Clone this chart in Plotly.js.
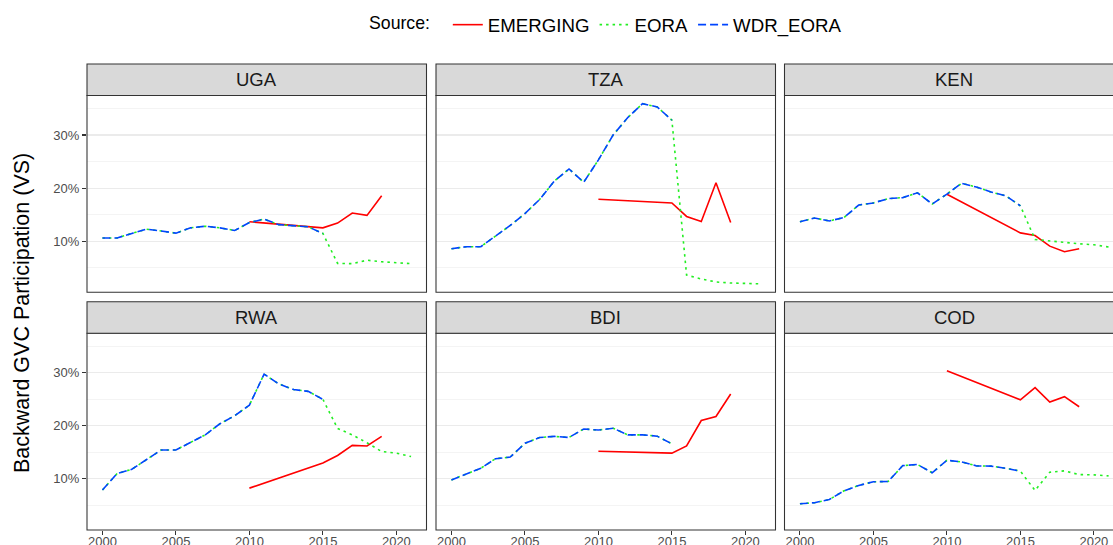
<!DOCTYPE html>
<html>
<head>
<meta charset="utf-8">
<script src="https://cdn.plot.ly/plotly-3.0.1.min.js"></script>
<style>
  html, body { margin: 0; padding: 0; background: #ffffff; }
  #chart { width: 1113px; height: 545px; }
</style>
</head>
<body>
<div id="chart"></div>
<script>
// ---------------- DATA (values in percent) ----------------
const countries = ["UGA", "TZA", "KEN", "RWA", "BDI", "COD"];
const sources = ["EMERGING", "EORA", "WDR_EORA"];

const yearsWdr = [2000, 2001, 2002, 2003, 2004, 2005, 2006, 2007, 2008, 2009, 2010, 2011, 2012, 2013, 2014, 2015];
const yearsEora = [2000, 2001, 2002, 2003, 2004, 2005, 2006, 2007, 2008, 2009, 2010, 2011, 2012, 2013, 2014, 2015, 2016, 2017, 2018, 2019, 2020, 2021];
const yearsEmerging = [2010, 2015, 2016, 2017, 2018, 2019];

// WDR_EORA series, 2000-2015
const wdrUGA = [10.6, 10.6, 11.45, 12.25, 11.9, 11.5, 12.5, 12.8, 12.5, 12.0, 13.5, 14.15, 13.1, 12.9, 12.7, 11.45];
const wdrTZA = [8.55, 8.95, 8.95, 10.95, 12.95, 15.2, 17.85, 21.3, 23.6, 21.1, 25.3, 30.0, 33.3, 35.9, 35.3, 32.8];
const wdrKEN = [13.65, 14.35, 13.8, 14.45, 16.8, 17.2, 18.0, 18.2, 19.1, 17.0, 18.85, 20.9, 20.2, 19.25, 18.55, 16.65];
const wdrRWA = [7.9, 11.0, 11.8, 13.7, 15.45, 15.45, 16.85, 18.3, 20.4, 21.9, 23.9, 29.75, 27.9, 26.85, 26.5, 25.0];
const wdrBDI = [9.8, 10.95, 12.0, 13.8, 14.1, 16.7, 17.8, 18.0, 17.8, 19.4, 19.2, 19.55, 18.3, 18.3, 18.05, 16.6];
const wdrCOD = [5.3, 5.5, 6.1, 7.75, 8.75, 9.45, 9.5, 12.5, 12.7, 11.15, 13.5, 13.2, 12.45, 12.4, 12.0, 11.45];

// EORA series, 2000-2021 (BDI only to 2015)
const eoraUGA = [10.6, 10.6, 11.45, 12.25, 11.9, 11.5, 12.5, 12.8, 12.5, 12.0, 13.5, 14.15, 13.1, 12.9, 12.7, 11.45, 5.8, 5.75, 6.4, 6.1, 5.95, 5.75];
const eoraTZA = [8.55, 8.95, 8.95, 10.95, 12.95, 15.2, 17.85, 21.3, 23.6, 21.1, 25.3, 30.0, 33.3, 35.9, 35.3, 32.8, 3.6, 2.85, 2.3, 2.1, 2.0, 1.95];
const eoraKEN = [13.65, 14.35, 13.8, 14.45, 16.8, 17.2, 18.0, 18.2, 19.1, 17.0, 18.85, 20.9, 20.2, 19.25, 18.55, 16.65, 10.3, 10.0, 9.7, 9.5, 9.3, 8.9];
const eoraRWA = [7.9, 11.0, 11.8, 13.7, 15.45, 15.45, 16.85, 18.3, 20.4, 21.9, 23.9, 29.75, 27.9, 26.85, 26.5, 25.0, 19.5, 18.3, 16.8, 15.15, 14.85, 14.2];
const eoraBDI = [9.8, 10.95, 12.0, 13.8, 14.1, 16.7, 17.8, 18.0, 17.8, 19.4, 19.2, 19.55, 18.3, 18.3, 18.05, 16.6];
const eoraCOD = [5.3, 5.5, 6.1, 7.75, 8.75, 9.45, 9.5, 12.5, 12.7, 11.15, 13.5, 13.2, 12.45, 12.4, 12.0, 11.45, 7.8, 11.25, 11.5, 10.8, 10.75, 10.55];

// EMERGING series: 2010, 2015-2019
const emgUGA = [13.65, 12.5, 13.4, 15.3, 14.85, 18.55];
const emgTZA = [17.9, 17.2, 14.65, 13.7, 21.0, 13.5];
const emgKEN = [18.85, 11.55, 11.05, 9.05, 8.0, 8.55];
const emgRWA = [8.25, 13.0, 14.4, 16.3, 16.2, 18.0];
const emgBDI = [15.2, 14.85, 16.2, 21.0, 21.75, 26.0];
const emgCOD = [30.4, 24.9, 27.2, 24.5, 25.5, 23.6];

const xTicks = [2000, 2005, 2010, 2015, 2020];
const yTicks = [10, 20, 30];
const yTickLabels = ["10%", "20%", "30%"];

// ---------------- BUILD ----------------
const wdrData = [wdrUGA, wdrTZA, wdrKEN, wdrRWA, wdrBDI, wdrCOD];
const eoraData = [eoraUGA, eoraTZA, eoraKEN, eoraRWA, eoraBDI, eoraCOD];
const emgData = [emgUGA, emgTZA, emgKEN, emgRWA, emgBDI, emgCOD];

const W = 1113, H = 545;
const FONT = "Liberation Sans, Arial, Helvetica, sans-serif";
const colX = [[87, 426.5], [436, 775.5], [784.5, 1113]];
const rowPlot = [[95.5, 292.3], [333.3, 530]];
const rowStrip = [[64, 95.5], [301.7, 333.3]];
const pxPerYear = (426.5 - 87) / (2022.05 - 1998.95);

const styles = {
  EMERGING: { color: "#ff0000", dash: "solid" },
  EORA: { color: "#22ee22", dash: "2.5px,4px" },
  WDR_EORA: { color: "#0044ff", dash: "8px,4px" }
};

const traces = [];
const layout = {
  width: W, height: H,
  margin: { l: 0, r: 0, t: 0, b: 0, pad: 0 },
  paper_bgcolor: "#ffffff",
  plot_bgcolor: "#ffffff",
  font: { family: FONT, color: "#1a1a1a" },
  showlegend: true,
  legend: {
    orientation: "h",
    x: 367 / W, xanchor: "left",
    y: 1 - 6 / H, yanchor: "top",
    font: { size: 18.7, family: FONT, color: "#000000" },
    title: { text: "Source:\u00a0\u00a0", side: "left", font: { size: 17.7, family: FONT, color: "#000000" } },
    bgcolor: "rgba(0,0,0,0)",
    itemwidth: 30,
    tracegroupgap: 0
  },
  shapes: [],
  annotations: [],
  hovermode: false
};

countries.forEach((c, i) => {
  const r = Math.floor(i / 3), col = i % 3;
  const k = i + 1;
  const xa = "x" + (k === 1 ? "" : k), ya = "y" + (k === 1 ? "" : k);
  const xd = colX[col], yd = rowPlot[r];
  const x0 = 1998.95;
  const x1 = x0 + (xd[1] - xd[0]) / pxPerYear;

  layout["xaxis" + (k === 1 ? "" : k)] = {
    domain: [xd[0] / W, xd[1] / W],
    anchor: ya,
    range: [x0, x1],
    showgrid: false, zeroline: false, showline: false,
    tickmode: "array", tickvals: xTicks, ticktext: xTicks.map(String),
    ticks: r === 1 ? "outside" : "", ticklen: 4, tickwidth: 1.07, tickcolor: "#333333",
    showticklabels: r === 1,
    ticklabelstandoff: -5,
    tickfont: { size: 13, color: "#4d4d4d", family: FONT }
  };
  layout["yaxis" + (k === 1 ? "" : k)] = {
    domain: [1 - yd[1] / H, 1 - yd[0] / H],
    anchor: xa,
    range: [0.35, 37.45],
    zeroline: false, showline: false,
    tickmode: "array", tickvals: yTicks, ticktext: yTickLabels,
    showgrid: true, gridcolor: "#ebebeb", gridwidth: 1.07,
    minor: { tickmode: "array", tickvals: [5, 15, 25, 35], showgrid: true, gridcolor: "#ebebeb", gridwidth: 0.55, ticks: "" },
    ticks: col === 0 ? "outside" : "", ticklen: 4, tickwidth: 1.07, tickcolor: "#333333",
    showticklabels: col === 0,
    tickfont: { size: 13, color: "#4d4d4d", family: FONT }
  };

  // traces: EMERGING, EORA, WDR_EORA (blue on top)
  traces.push({
    type: "scatter", mode: "lines", x: yearsEmerging, y: emgData[i],
    xaxis: xa, yaxis: ya, name: "EMERGING", legendgroup: "EMERGING", showlegend: i === 0,
    line: { color: styles.EMERGING.color, width: 1.6, dash: styles.EMERGING.dash }
  });
  traces.push({
    type: "scatter", mode: "lines", x: yearsEora.slice(0, eoraData[i].length), y: eoraData[i],
    xaxis: xa, yaxis: ya, name: "EORA", legendgroup: "EORA", showlegend: i === 0,
    line: { color: styles.EORA.color, width: 1.6, dash: styles.EORA.dash }
  });
  traces.push({
    type: "scatter", mode: "lines", x: yearsWdr, y: wdrData[i],
    xaxis: xa, yaxis: ya, name: "WDR_EORA", legendgroup: "WDR_EORA", showlegend: i === 0,
    line: { color: styles.WDR_EORA.color, width: 1.6, dash: styles.WDR_EORA.dash }
  });

  // panel border (col 3 runs past the right edge, as in the reference)
  const bx1 = col === 2 ? 1125 : xd[1];
  layout.shapes.push({
    type: "rect", xref: "paper", yref: "paper", layer: "above",
    x0: xd[0] / W, x1: bx1 / W, y0: 1 - yd[1] / H, y1: 1 - yd[0] / H,
    line: { color: "#333333", width: 1.07 }, fillcolor: "rgba(0,0,0,0)"
  });
  // strip
  const sd = rowStrip[r];
  layout.shapes.push({
    type: "rect", xref: "paper", yref: "paper", layer: "above",
    x0: xd[0] / W, x1: bx1 / W, y0: 1 - sd[1] / H, y1: 1 - sd[0] / H,
    line: { color: "#333333", width: 1.07 }, fillcolor: "#d9d9d9"
  });
  layout.annotations.push({
    xref: "paper", yref: "paper", showarrow: false,
    x: ((xd[0] + (col === 2 ? 1124 : xd[1])) / 2) / W, y: 1 - ((sd[0] + sd[1]) / 2) / H,
    xanchor: "center", yanchor: "middle",
    text: c, font: { size: 18.5, color: "#1a1a1a", family: FONT }
  });
});

// y-axis title
layout.annotations.push({
  xref: "paper", yref: "paper", showarrow: false,
  x: 22 / W, y: 1 - 313 / H, xanchor: "center", yanchor: "middle",
  textangle: -90,
  text: "Backward GVC Participation (VS)",
  font: { size: 21.5, color: "#000000", family: FONT }
});

Plotly.newPlot("chart", traces, layout, { staticPlot: true, displayModeBar: false });
</script>
</body>
</html>
